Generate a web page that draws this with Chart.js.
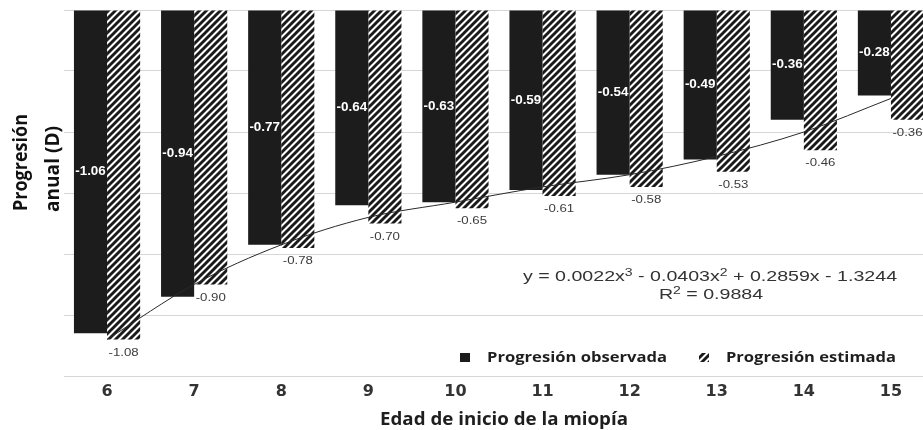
<!DOCTYPE html>
<html>
<head>
<meta charset="utf-8">
<script src="https://cdn.jsdelivr.net/npm/chart.js@4.4.1/dist/chart.umd.min.js"></script>
<style>
  html, body { margin: 0; padding: 0; background: #fff; overflow: hidden; }
  #wrap { position: relative; width: 940px; height: 430px; }
</style>
</head>
<body>
<div id="wrap"><canvas id="c"></canvas></div>
<script>
// Age at myopia onset (years)
const ages = ['6', '7', '8', '9', '10', '11', '12', '13', '14', '15'];
// Annual progression (D)
const observed  = [-1.06, -0.94, -0.77, -0.64, -0.63, -0.59, -0.54, -0.49, -0.36, -0.28];
const estimated = [-1.08, -0.90, -0.78, -0.70, -0.65, -0.61, -0.58, -0.53, -0.46, -0.36];
// Cubic trend line through the observed progression, one value per age
const trend     = [-1.08, -0.90, -0.77, -0.68, -0.63, -0.58, -0.54, -0.48, -0.40, -0.29];
// Horizontal grid levels
const yTicks = [0, -0.2, -0.4, -0.6, -0.8, -1.0, -1.2];

const seriesNames = ['Progresión observada', 'Progresión estimada'];
const yTitleLines = ['Progresión', 'anual (D)'];
const xTitle = 'Edad de inicio de la miopía';
const equationParts = [['y = 0.0022x', 0], ['3', 1], [' - 0.0403x', 0], ['2', 1], [' + 0.2859x - 1.3244', 0]];
const r2Parts = [['R', 0], ['2', 1], [' = 0.9884', 0]];

const canvas = document.getElementById('c');
const mainCtx = canvas.getContext('2d');

// Diagonal stripe fill for the estimated series
function makeHatch(size, lw, color) {
  const c = document.createElement('canvas');
  c.width = c.height = size;
  const g = c.getContext('2d');
  g.fillStyle = '#ffffff';
  g.fillRect(0, 0, size, size);
  g.strokeStyle = color;
  g.lineWidth = lw;
  g.beginPath();
  g.moveTo(0, size); g.lineTo(size, 0);
  g.moveTo(-size / 2, size / 2); g.lineTo(size / 2, -size / 2);
  g.moveTo(size / 2, size * 1.5); g.lineTo(size * 1.5, size / 2);
  g.stroke();
  return mainCtx.createPattern(c, 'repeat');
}
const hatch = makeHatch(7, 2.9, '#1a1a1a');

// Text runs with optional superscripts, horizontal stretch and rotation
function runWidth(ctx, parts, font, supFont) {
  let w = 0;
  for (const [t, s] of parts) { ctx.font = s ? supFont : font; w += ctx.measureText(t).width; }
  return w;
}
function drawRun(ctx, parts, o) {
  ctx.save();
  ctx.translate(o.x, o.y);
  if (o.rotate) ctx.rotate(o.rotate);
  const supFont = o.supFont || o.font;
  const natural = runWidth(ctx, parts, o.font, supFont);
  const sx = o.fit ? o.fit / natural : (o.sx || 1);
  ctx.scale(sx, o.sy || 1);
  let cur = o.align === 'center' ? -natural / 2 : (o.align === 'right' ? -natural : 0);
  ctx.fillStyle = o.color;
  ctx.textAlign = 'left';
  ctx.textBaseline = o.baseline || 'alphabetic';
  for (const [t, s] of parts) {
    ctx.font = s ? supFont : o.font;
    ctx.fillText(t, cur, s ? -(o.rise || 0) : 0);
    cur += ctx.measureText(t).width;
  }
  ctx.restore();
}

const decor = {
  id: 'decor',
  afterDatasetsDraw(chart) {
    const ctx = chart.ctx;
    chart.getDatasetMeta(0).data.forEach((bar, i) => {
      drawRun(ctx, [[observed[i].toFixed(2), 0]], {
        x: bar.x, y: (bar.y + bar.base) / 2, align: 'center', baseline: 'middle',
        font: 'bold 12px "Liberation Sans"', sx: 1.12, color: '#ffffff'
      });
    });
    chart.getDatasetMeta(1).data.forEach((bar, i) => {
      drawRun(ctx, [[estimated[i].toFixed(2), 0]], {
        x: bar.x, y: bar.y + 13, align: 'center', baseline: 'middle',
        font: '11.5px "Liberation Sans"', sx: 1.15, color: '#3c3c3c'
      });
    });
  },
  afterDraw(chart) {
    const ctx = chart.ctx;
    // trend equation
    drawRun(ctx, equationParts, {
      x: 710, y: 281, align: 'center', font: '14px "Liberation Sans"', supFont: '10px "Liberation Sans"',
      rise: 5, sx: 1.4, color: '#333333'
    });
    drawRun(ctx, r2Parts, {
      x: 711, y: 299, align: 'center', font: '14px "Liberation Sans"', supFont: '10px "Liberation Sans"',
      rise: 5, sx: 1.4, color: '#333333'
    });
    // legend
    ctx.fillStyle = '#1c1c1c';
    ctx.fillRect(460, 353, 10, 9);
    ctx.fillStyle = hatch;
    ctx.fillRect(699, 353, 10, 9);
    drawRun(ctx, [[seriesNames[0], 0]], {
      x: 487, y: 362, font: 'bold 14.5px "Open Sans"', fit: 180, color: '#1e1e1e'
    });
    drawRun(ctx, [[seriesNames[1], 0]], {
      x: 726, y: 362, font: 'bold 14.5px "Open Sans"', fit: 170, color: '#1e1e1e'
    });
    // axis titles
    drawRun(ctx, [[xTitle, 0]], {
      x: 504, y: 425, align: 'center', font: 'bold 17px "Open Sans"', fit: 248, color: '#1e1e1e'
    });
    drawRun(ctx, [[yTitleLines[0], 0]], {
      x: 27, y: 211, rotate: -Math.PI / 2, font: 'bold 17px "Open Sans"', fit: 97, sy: 1.2, color: '#111111'
    });
    drawRun(ctx, [[yTitleLines[1], 0]], {
      x: 59, y: 212, rotate: -Math.PI / 2, font: 'bold 17px "Open Sans"', fit: 86, sy: 1.2, color: '#111111'
    });
  }
};

new Chart(canvas, {
  data: {
    labels: ages,
    datasets: [
      {
        type: 'bar', label: seriesNames[0], data: observed,
        backgroundColor: '#1c1c1c', borderWidth: 0,
        categoryPercentage: 0.76, barPercentage: 1.0, order: 2
      },
      {
        type: 'bar', label: seriesNames[1], data: estimated,
        backgroundColor: hatch, borderWidth: 0,
        categoryPercentage: 0.76, barPercentage: 1.0, order: 2
      },
      {
        type: 'line', label: 'Tendencia', data: trend,
        borderColor: '#2a2a2a', borderWidth: 1, pointRadius: 0,
        cubicInterpolationMode: 'monotone', fill: false, order: 1
      }
    ]
  },
  options: {
    responsive: true,
    maintainAspectRatio: false,
    animation: false,
    devicePixelRatio: 1,
    events: [],
    layout: { padding: { top: 10, right: 5.5, left: 0, bottom: 0 } },
    plugins: { legend: { display: false }, tooltip: { enabled: false } },
    scales: {
      x: {
        grid: { display: false, drawTicks: false, tickLength: 0 },
        border: { display: false },
        ticks: {
          color: '#333333', padding: 6,
          font: { family: 'DejaVu Sans', weight: 'bold', size: 16 }
        },
        afterFit(scale) { scale.height = 54; }
      },
      y: {
        min: yTicks[yTicks.length - 1], max: yTicks[0],
        afterBuildTicks(scale) { scale.ticks = yTicks.map(v => ({ value: v })); },
        grid: { color: '#d6d6d6', lineWidth: 1, drawTicks: false, tickLength: 0 },
        border: { display: false },
        ticks: { display: false },
        afterFit(scale) { scale.width = 63.5; }
      }
    }
  },
  plugins: [decor]
});
</script>
</body>
</html>
